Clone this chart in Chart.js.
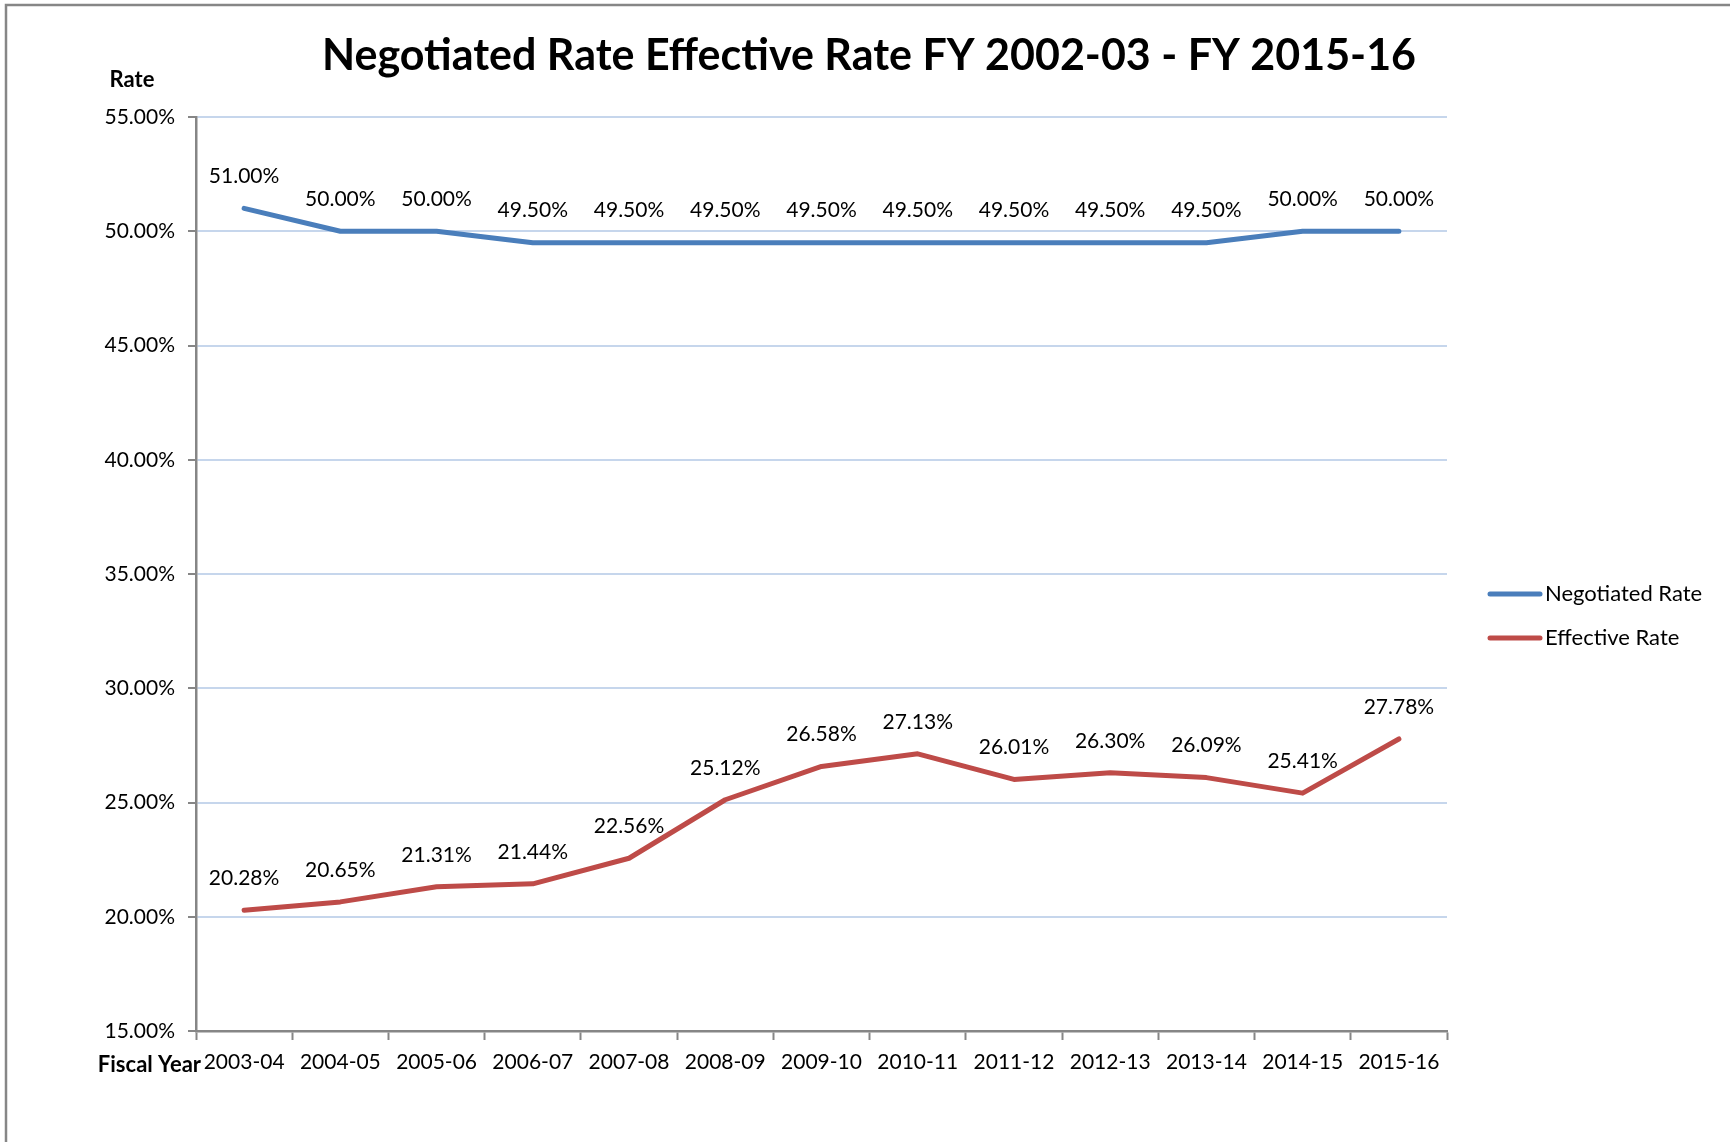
<!DOCTYPE html>
<html>
<head>
<meta charset="utf-8">
<script src="https://cdn.jsdelivr.net/npm/chart.js@4/dist/chart.umd.min.js"></script>
<style>
  body { margin: 0; background: #fff; }
  #wrap { width: 1730px; height: 1142px; }
</style>
</head>
<body>
<div id="wrap"><canvas id="myChart" width="1730" height="1142"></canvas></div>
<script>
// data
const fiscalYears = ['2003-04', '2004-05', '2005-06', '2006-07', '2007-08', '2008-09', '2009-10',
                     '2010-11', '2011-12', '2012-13', '2013-14', '2014-15', '2015-16'];
const negotiatedRate = [51.00, 50.00, 50.00, 49.50, 49.50, 49.50, 49.50, 49.50, 49.50, 49.50, 49.50, 50.00, 50.00];
const effectiveRate = [20.28, 20.65, 21.31, 21.44, 22.56, 25.12, 26.58, 27.13, 26.01, 26.30, 26.09, 25.41, 27.78];
const yMin = 15, yMax = 55, yStep = 5;

const chartTitle = 'Negotiated Rate Effective Rate FY 2002-03 - FY 2015-16';
const yTitle = 'Rate';
const xTitle = 'Fiscal Year';

const FONT = 'Lato, "Open Sans", sans-serif';
const axisGray = '#868686';

// frame, titles, data labels and legend drawn on top of the chart
const decorations = {
  id: 'decorations',
  beforeDraw(chart) {
    const ctx = chart.ctx;
    ctx.save();
    ctx.strokeStyle = axisGray;
    ctx.lineWidth = 2.5;
    ctx.beginPath();
    ctx.moveTo(6, chart.height);
    ctx.lineTo(6, 5);
    ctx.lineTo(chart.width, 5);
    ctx.stroke();
    ctx.restore();
  },
  afterDatasetsDraw(chart) {
    const ctx = chart.ctx;
    ctx.save();
    ctx.fillStyle = '#000';
    ctx.textAlign = 'center';
    ctx.textBaseline = 'middle';
    ctx.font = 'bold 43px ' + FONT;
    ctx.fillText(chartTitle, 869, 56);

    ctx.font = 'bold 22px ' + FONT;
    ctx.fillText(yTitle, 132, 80);
    ctx.textAlign = 'right';
    ctx.fillText(xTitle, 201, 1065);

    // data labels above each point
    ctx.textAlign = 'center';
    ctx.font = '21px ' + FONT;
    chart.data.datasets.forEach((ds, i) => {
      const meta = chart.getDatasetMeta(i);
      meta.data.forEach((pt, j) => {
        ctx.fillText(ds.data[j].toFixed(2) + '%', pt.x, pt.y - 32);
      });
    });

    // legend
    ctx.textAlign = 'left';
    ctx.lineCap = 'round';
    ctx.font = '22px ' + FONT;
    chart.data.datasets.forEach((ds, i) => {
      const y = 594 + i * 44;
      ctx.strokeStyle = ds.borderColor;
      ctx.lineWidth = 5;
      ctx.beginPath();
      ctx.moveTo(1490, y);
      ctx.lineTo(1540, y);
      ctx.stroke();
      ctx.fillText(ds.label, 1545, y);
    });
    ctx.restore();
  }
};

new Chart(document.getElementById('myChart'), {
  type: 'line',
  data: {
    labels: fiscalYears,
    datasets: [{
      label: 'Negotiated Rate',
      data: negotiatedRate,
      borderColor: '#4A7EBB',
      backgroundColor: '#4A7EBB',
      borderWidth: 5,
      pointRadius: 0,
      tension: 0,
      borderCapStyle: 'round',
      borderJoinStyle: 'round'
    }, {
      label: 'Effective Rate',
      data: effectiveRate,
      borderColor: '#BE4B48',
      backgroundColor: '#BE4B48',
      borderWidth: 5,
      pointRadius: 0,
      tension: 0,
      borderCapStyle: 'round',
      borderJoinStyle: 'round'
    }]
  },
  options: {
    responsive: false,
    animation: false,
    layout: { padding: { left: 0, top: 117, right: 283, bottom: 0 } },
    plugins: {
      legend: { display: false },
      title: { display: false },
      tooltip: { enabled: false }
    },
    scales: {
      x: {
        offset: true,
        grid: {
          offset: true,
          drawOnChartArea: false,
          drawTicks: true,
          tickLength: 9,
          tickWidth: 2,
          tickColor: axisGray
        },
        border: { color: axisGray, width: 2.5 },
        ticks: {
          color: '#000',
          font: { family: FONT, size: 21 },
          padding: 10,
          maxRotation: 0,
          autoSkip: false
        },
        afterFit(scale) { scale.height = 111; }
      },
      y: {
        min: yMin,
        max: yMax,
        grid: {
          color: '#C6D6EC',
          lineWidth: 2,
          drawTicks: true,
          tickLength: 8,
          tickWidth: 2,
          tickColor: axisGray
        },
        border: { color: axisGray, width: 2.5 },
        ticks: {
          stepSize: yStep,
          color: '#000',
          font: { family: FONT, size: 21 },
          padding: 13,
          callback: v => v.toFixed(2) + '%'
        },
        afterFit(scale) { scale.width = 196; }
      }
    }
  },
  plugins: [decorations]
});
</script>
</body>
</html>
